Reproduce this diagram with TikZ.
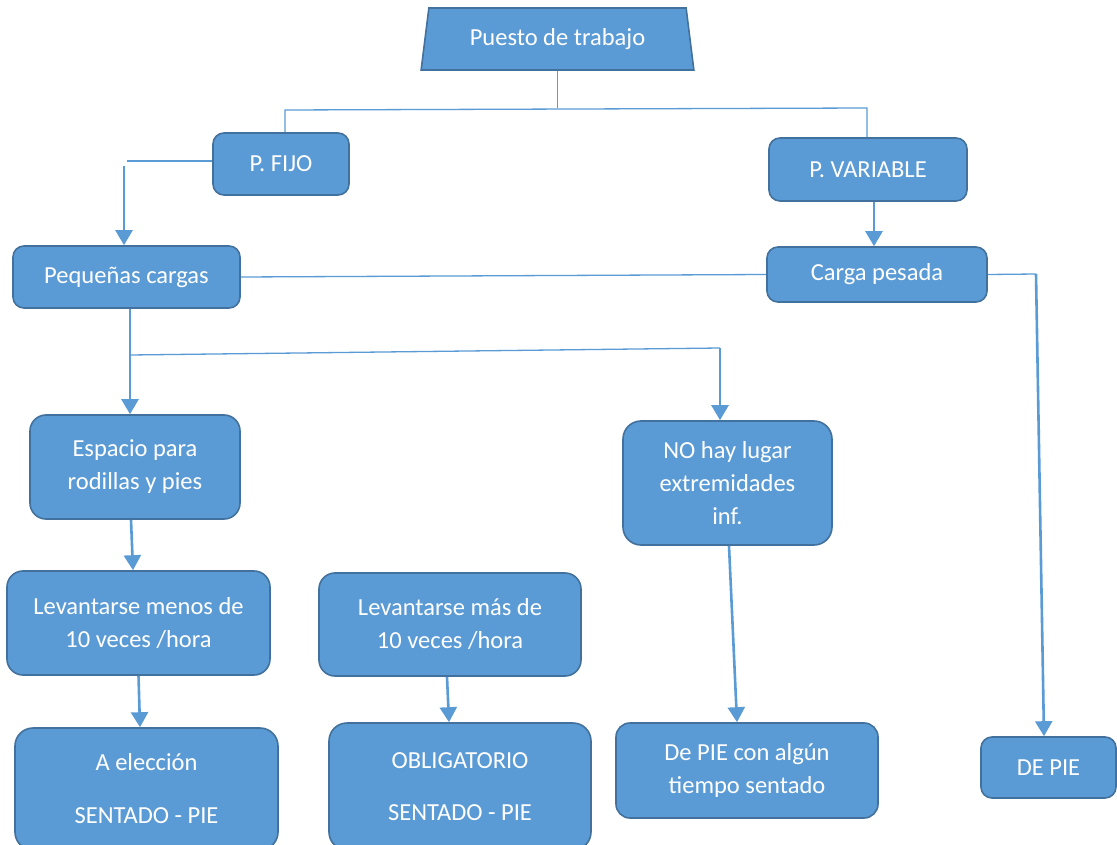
\documentclass[tikz,border=0pt]{standalone}
\usepackage{fontspec}
\setmainfont{Carlito}
\usetikzlibrary{shapes.geometric,arrows.meta}
\definecolor{boxfill}{HTML}{5B9BD5}
\definecolor{boxline}{HTML}{41719C}
\definecolor{linec}{HTML}{5B9BD5}
\tikzset{
  box/.style={draw=boxline, fill=boxfill, line width=1.6pt, rounded corners=11pt,
    text=white, align=center, inner sep=0pt,
    font=\fontsize{24.5}{33}\selectfont},
  conn/.style={draw=linec, line width=1.3pt},
  arr/.style={draw=linec, line width=2.6pt, -{Triangle[width=17pt,length=15pt]}, shorten >=0pt},
}
\begin{document}
\begin{tikzpicture}[x=1pt,y=-1pt]
\clip (0,0) rectangle (1117,845);
\fill[white] (0,0) rectangle (1117,845);

% trapezoid
\node[trapezium, trapezium stretches=true, draw=boxline, fill=boxfill, line width=1.6pt,
  minimum width=273pt, minimum height=62pt, trapezium left angle=76, trapezium right angle=76,
  inner sep=0pt, text=white, font=\fontsize{24.5}{28}\selectfont] (puesto) at (557.5,39) {Puesto de trabajo};

\node[box, minimum width=136pt, minimum height=62pt] (fijo) at (281,164) {P. FIJO};
\node[box, minimum width=198pt, minimum height=63pt] (var) at (868,169.5) {P. VARIABLE};
\node[box, minimum width=227pt, minimum height=62pt] (peq) at (126.5,277) {Pequeñas cargas};
\node[box, minimum width=220pt, minimum height=55pt] (carga) at (877,274.5) {Carga pesada};
\node[box, minimum width=210pt, minimum height=104pt, rounded corners=16pt] (esp) at (135,467) {Espacio para\\rodillas y pies};
\node[box, minimum width=209pt, minimum height=124pt, rounded corners=18pt] (nohay) at (727.5,483) {NO hay lugar\\extremidades\\inf.};
\node[box, minimum width=263pt, minimum height=104pt, rounded corners=16pt] (lmenos) at (138.5,623) {Levantarse menos de\\10 veces /hora};
\node[box, minimum width=262pt, minimum height=103pt, rounded corners=16pt] (lmas) at (450,624.5) {Levantarse más de\\10 veces /hora};
\node[box, minimum width=263pt, minimum height=122pt, rounded corners=18pt] (aelec) at (146.5,789) {A elección\\[20pt]SENTADO - PIE};
\node[box, minimum width=262pt, minimum height=127pt, rounded corners=18pt] (oblig) at (460,786.5) {OBLIGATORIO\\[19pt]SENTADO - PIE};
\node[box, minimum width=262pt, minimum height=95pt, rounded corners=14pt] (depie2) at (747,770.5) {De PIE con algún\\tiempo sentado};
\node[box, minimum width=135pt, minimum height=61pt] (depie) at (1048.5,767.5) {DE PIE};

% top branching
\coordinate (hL) at (285,110);
\coordinate (hR) at (867,108);
\draw[conn] (puesto.south) -- (puesto.south |- hR);
\draw[conn] (fijo.north -| hL) -- (hL) -- (hR) -- (hR |- var.north);

% P. FIJO -> Pequeñas cargas
\coordinate (f1) at (124,161);
\draw[conn] (fijo.west |- f1) -- ([xshift=3pt]f1);
\draw[arr] ([yshift=-5pt]f1) -- (f1 |- peq.north);

% P. VARIABLE -> Carga pesada
\coordinate (v1) at (874,0);
\draw[arr] (var.south -| v1) -- (carga.north -| v1);

% Pequeñas cargas -- Carga pesada
\draw[conn] (peq.east) -- (carga.west);

% Carga pesada -> DE PIE
\coordinate (c1) at (1036,274);
\draw[conn] (carga.east) -- (c1);
\draw[arr] (c1) -- ([xshift=-4.5pt]depie.north);

% Pequeñas cargas -> Espacio / NO hay
\coordinate (p1) at (130,0);
\coordinate (b1) at (130,355);
\coordinate (b2) at (720,348);
\draw[arr] (peq.south -| p1) -- (esp.north -| p1);
\draw[conn] (b1) -- (b2);
\draw[arr] (b2) -- (nohay.north -| b2);

% lower arrows
\draw[arr] ([xshift=-4pt]esp.south) -- ([xshift=-5.5pt]lmenos.north);
\draw[arr] (lmenos.south) -- ([xshift=-6.5pt]aelec.north);
\draw[arr] ([xshift=-3pt]lmas.south) -- ([xshift=-11pt]oblig.north);
\draw[arr] ([xshift=1.5pt]nohay.south) -- ([xshift=-10pt]depie2.north);
\end{tikzpicture}
\end{document}
